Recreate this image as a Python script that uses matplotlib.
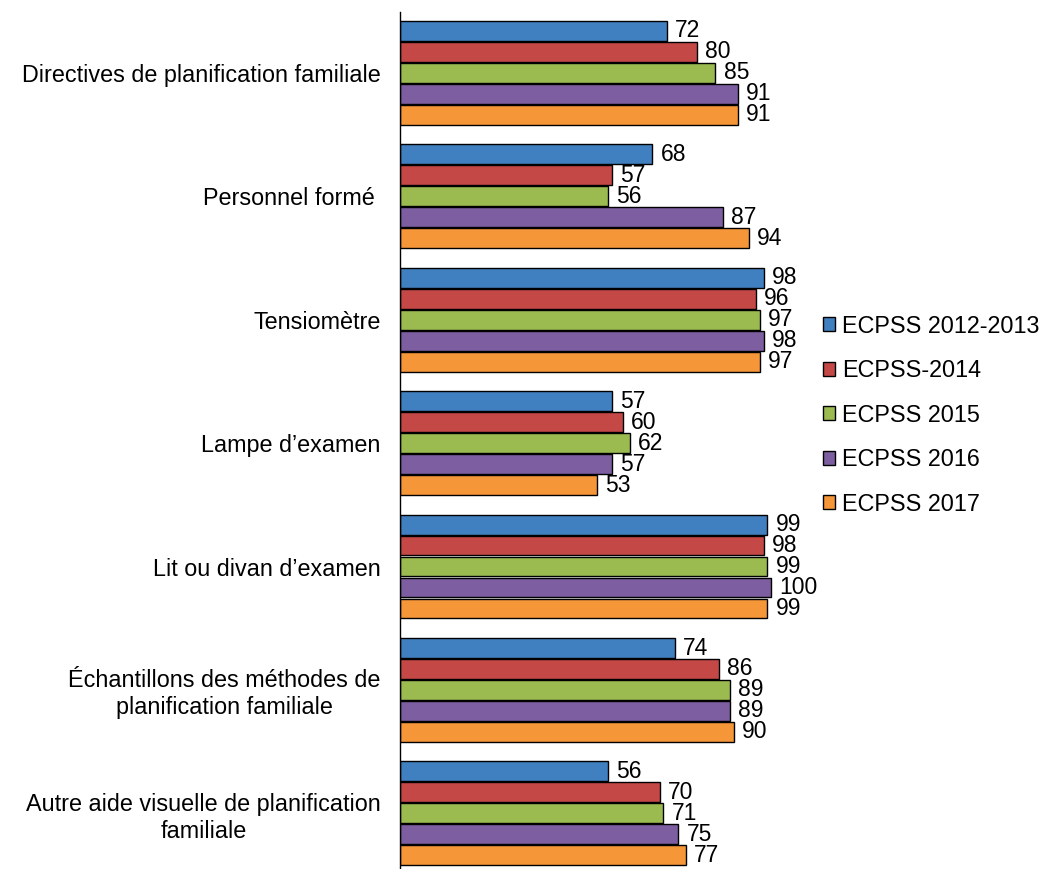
import matplotlib.pyplot as plt
import numpy as np

plt.rcParams['font.family'] = ['Liberation Sans', 'DejaVu Sans']

categories = ["Directives de planification familiale",
              "Personnel formé ",
              "Tensiomètre",
              "Lampe d’examen",
              "Lit ou divan d’examen",
              "Échantillons des méthodes de\nplanification familiale",
              "Autre aide visuelle de planification\nfamiliale"]

series = ["ECPSS 2012-2013", "ECPSS-2014", "ECPSS 2015", "ECPSS 2016", "ECPSS 2017"]
v2012 = [72, 68, 98, 57, 99, 74, 56]
v2014 = [80, 57, 96, 60, 98, 86, 70]
v2015 = [85, 56, 97, 62, 99, 89, 71]
v2016 = [91, 87, 98, 57, 100, 89, 75]
v2017 = [91, 94, 97, 53, 99, 90, 77]
colors = ["#4180c0", "#c44846", "#9bbb51", "#7d5fa1", "#f59638"]

values = [v2012, v2014, v2015, v2016, v2017]
fs = 16.8

fig = plt.figure(figsize=(10.45, 8.69), dpi=100)
ax = fig.add_axes([0.383, 0.0, 0.408, 0.986])

y = np.arange(len(categories))
h = 0.17
for i, (name, vals) in enumerate(zip(series, values)):
    pos = y - 2 * h + i * h
    bars = ax.barh(pos, vals, height=h * 0.95, color=colors[i],
                   edgecolor="black", linewidth=1, label=name)
    for b, v in zip(bars, vals):
        ax.text(b.get_width() + 2.2, b.get_y() + b.get_height() / 2, str(v),
                va="center", ha="left", fontsize=16.5)

ax.set_xlim(0, 115)
ax.set_ylim(6.45, -0.49)
ax.set_yticks(y)
ax.set_yticklabels(categories, fontsize=fs, ha="right", multialignment="center")
ax.tick_params(axis="y", length=0, pad=14)
ax.set_xticks([])
for s in ["top", "right", "bottom"]:
    ax.spines[s].set_visible(False)
ax.spines["left"].set_linewidth(1)

fig.legend(loc="upper left", bbox_to_anchor=(0.767, 0.662), frameon=False,
           fontsize=fs, handlelength=0.55, handleheight=0.55,
           handletextpad=0.3, labelspacing=0.92)

fig.savefig("out.png", dpi=100)
